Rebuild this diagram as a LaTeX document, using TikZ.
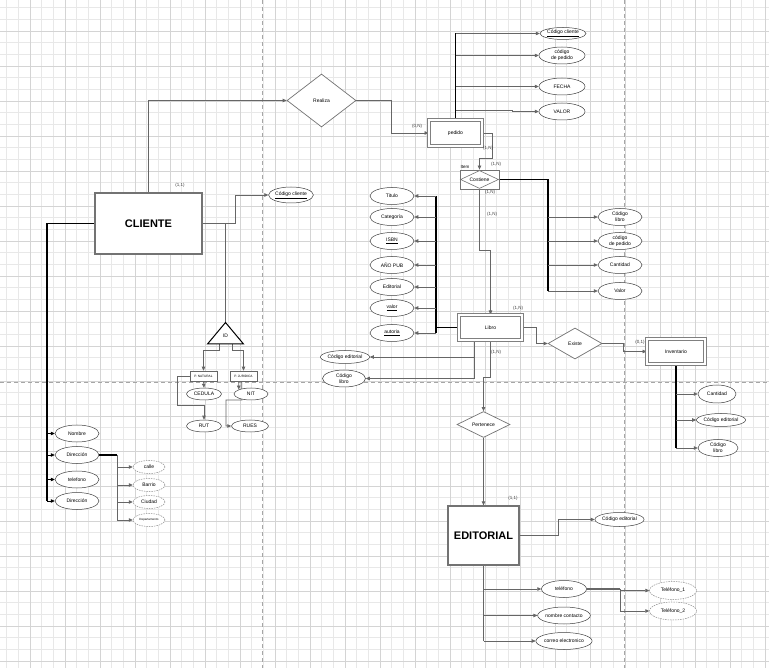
\documentclass[tikz,border=0pt]{standalone}
\usepackage{fontspec}
\setmainfont{Liberation Sans}
\usetikzlibrary{shapes.geometric,arrows.meta,calc}
\pgfdeclarelayer{gridlayer}
\pgfdeclarelayer{edgelayer}
\pgfsetlayers{gridlayer,edgelayer,main}
\begin{document}
\begin{tikzpicture}[x=1pt,y=-1pt,
 attr/.style={ellipse, draw=black!75, line width=0.5pt, fill=white, inner sep=0pt, font=\fontsize{5}{6}\selectfont, align=center},
 dattr/.style={attr, draw=black!45, dash pattern=on 1.5pt off 1pt},
 ent/.style={rectangle, draw=black!55, line width=1.2pt, fill=white, inner sep=0pt},
 went/.style={rectangle, draw=black!50, double=white, double distance=1.2pt, line width=1pt, fill=white, inner sep=0pt, font=\fontsize{5}{6}\selectfont},
 rel/.style={diamond, aspect=2, draw=black!55, line width=0.7pt, fill=white, inner sep=0pt, font=\fontsize{5}{6}\selectfont},
 pbox/.style={rectangle, draw=black!60, line width=0.6pt, fill=white, inner sep=0pt, font=\fontsize{3.2}{4}\selectfont},
 conn/.style={draw=black!60, line width=0.7pt, -{Triangle[length=4pt,width=3.5pt]}},
 link/.style={draw=black!60, line width=0.7pt},
 thk/.style={draw=black, line width=1.1pt},
 card/.style={font=\fontsize{4.5}{5}\selectfont, text=black!75, inner sep=0pt},
]
\useasboundingbox (0,0) rectangle (769,668);
\begin{pgfonlayer}{gridlayer}
\fill[white] (0,0) rectangle (769,668);
\foreach \i in {0,...,65} {\draw[black!9, line width=0.4pt] ({6.667+11.667*\i},0) -- ({6.667+11.667*\i},668);}
\foreach \i in {0,...,57} {\draw[black!9, line width=0.4pt] (0,{7.667+11.667*\i}) -- (769,{7.667+11.667*\i});}
\foreach \i in {0,...,21} {\draw[black!17, line width=0.5pt] ({30+35*\i},0) -- ({30+35*\i},668);}
\foreach \i in {0,...,18} {\draw[black!17, line width=0.5pt] (0,{31+35*\i}) -- (769,{31+35*\i});}
\draw[black!35, line width=0.8pt, dash pattern=on 4pt off 3pt] (262,0) -- (262,668);
\draw[black!35, line width=0.8pt, dash pattern=on 4pt off 3pt] (624,0) -- (624,668);
\draw[black!35, line width=0.8pt, dash pattern=on 4pt off 3pt] (0,382) -- (769,382);
\end{pgfonlayer}

% entities and relations
\node[ent, minimum width=107, minimum height=61, font=\bfseries\fontsize{11}{13}\selectfont] (cliente) at (148.5,223.5) {CLIENTE};
\node[rel, minimum width=69, minimum height=53] (realiza) at (321.5,100.5) {Realiza};
\node[went, minimum width=53, minimum height=26] (pedido) at (455.5,133) {pedido};
\node[rectangle, draw=black!55, line width=0.8pt, fill=white, minimum width=39, minimum height=19, inner sep=0pt] (costbox) at (479.5,179.5) {};
\node[rel, minimum width=38, minimum height=18, line width=0.6pt] (costiene) at (479.5,179.5) {Costiene};
\node[went, minimum width=63, minimum height=25] (libro) at (490.5,327.5) {Libro};
\node[rel, minimum width=54, minimum height=31] (existe) at (575,343.5) {Existe};
\node[went, minimum width=58, minimum height=25] (inv) at (676,351.5) {Inventario};
\node[rel, minimum width=53, minimum height=26] (pert) at (483.5,424.5) {Pertenece};
\node[ent, minimum width=71, minimum height=59, font=\bfseries\fontsize{11}{13}\selectfont] (edit) at (483.5,535.5) {EDITORIAL};

% pedido attributes
\node[attr, minimum width=46, minimum height=12] (pcc) at (563,33.5) {\underline{Código cliente}};
\node[attr, minimum width=46, minimum height=17] (pcp) at (562,55.5) {código\\de pedido};
\node[attr, minimum width=46, minimum height=17] (pfecha) at (562,86.5) {FECHA};
\node[attr, minimum width=46, minimum height=17] (pvalor) at (562,111.5) {VALOR};

% costiene attributes
\node[attr, minimum width=44, minimum height=17] (ccl) at (620,217) {Código\\libro};
\node[attr, minimum width=44, minimum height=17] (ccp) at (620,241) {código\\de pedido};
\node[attr, minimum width=44, minimum height=17] (ccant) at (620,265) {Cantidad};
\node[attr, minimum width=44, minimum height=17] (cval) at (620,291) {Valor};

% libro attributes
\node[attr, minimum width=44, minimum height=17] (ltit) at (392,196) {Titulo};
\node[attr, minimum width=44, minimum height=17] (lcat) at (392,217) {Categoría};
\node[attr, minimum width=44, minimum height=17] (lisbn) at (392,241) {\underline{ISBN}};
\node[attr, minimum width=44, minimum height=17] (lano) at (392,265) {AÑO PUB};
\node[attr, minimum width=44, minimum height=17] (ledit) at (392,287) {Editorial};
\node[attr, minimum width=44, minimum height=17] (lval) at (392,308) {\underline{valor}};
\node[attr, minimum width=44, minimum height=17] (laut) at (392,333) {\underline{autoria}};
\node[attr, minimum width=44, minimum height=13] (lce) at (345,357) {Código editorial};
\node[attr, minimum width=43, minimum height=17] (lcl) at (344,378.5) {Código\\libro};

% inventario attributes
\node[attr, minimum width=38, minimum height=18] (icant) at (717,394) {Cantidad};
\node[attr, minimum width=43, minimum height=13] (ice) at (721,420) {Código editorial};
\node[attr, minimum width=40, minimum height=17] (icl) at (718,448) {Código\\libro};

% editorial attributes
\node[attr, minimum width=45, minimum height=14] (ece) at (619.5,519.5) {Código editorial};
\node[attr, minimum width=45, minimum height=17] (etel) at (564,589) {teléfono};
\node[attr, minimum width=45, minimum height=17] (enc) at (564,615.5) {nombre contacto};
\node[attr, minimum width=45, minimum height=17] (ecor) at (564,641) {correo electronico};
\node[dattr, minimum width=47, minimum height=18] (et1) at (673,590.5) {Teléfono\_1};
\node[dattr, minimum width=47, minimum height=18] (et2) at (673,611) {Teléfono\_2};

% cliente attributes
\node[attr, minimum width=44, minimum height=16] (ccod) at (291,195) {\underline{Código cliente}};
\node[attr, minimum width=44, minimum height=17] (cnom) at (77,433.5) {Nombre};
\node[attr, minimum width=44, minimum height=17] (cdir1) at (77,455) {Dirección};
\node[attr, minimum width=44, minimum height=17] (ctel) at (77,479.5) {telefono};
\node[attr, minimum width=44, minimum height=17] (cdir2) at (77,501) {Dirección};
\node[dattr, minimum width=32, minimum height=13] (scalle) at (149,467) {calle};
\node[dattr, minimum width=32, minimum height=13] (sbar) at (149,485) {Barrio};
\node[dattr, minimum width=32, minimum height=13] (sciu) at (149,502) {Ciudad};
\node[dattr, minimum width=32, minimum height=13, font=\fontsize{3}{4}\selectfont] (sdep) at (149,520) {Departamento};

% ID specialization
\coordinate (idtop) at (225.5,322.5);
\coordinate (idl) at (207.5,344);
\coordinate (idr) at (243.5,344);
\draw[black, line width=1pt, fill=white] (idtop) -- (idr) -- (idl) -- cycle;
\node[font=\fontsize{5}{6}\selectfont, inner sep=0pt] (id) at (225.5,336) {ID};
\node[pbox, minimum width=27, minimum height=10] (pnat) at (203.5,376) {P. NATURAL};
\node[pbox, minimum width=27, minimum height=10] (pjur) at (243.5,376) {P. JURIDICA};
\node[attr, minimum width=35, minimum height=12] (ced) at (204,394) {CEDULA};
\node[attr, minimum width=35, minimum height=12] (rut) at (204,426) {RUT};
\node[attr, minimum width=34, minimum height=12] (nit) at (251,394) {NIT};
\node[attr, minimum width=37, minimum height=12] (rues) at (250,426) {RUES};

% cardinalities
\node[card] (k1) at (180,185) {(1,1)};
\node[card] (k2) at (417,126) {(0,N)};
\node[card] (k3) at (488,148) {(1,N)};
\node[card] (k4) at (496,164) {(1,N)};
\node[card] (k5) at (490,192) {(1,N)};
\node[card] (k6) at (492,214) {(1,N)};
\node[card] (k7) at (518,308) {(1,N)};
\node[card] (k8) at (496,352) {(1,N)};
\node[card] (k9) at (640,342) {(0,1)};
\node[card] (k10) at (513,498) {(1,1)};
\node[card, text=black] (item) at (465,167) {Item};

% trunk coordinates
\coordinate (ctr) at (548,200);
\coordinate (ltr) at (436,200);
\coordinate (cltr) at (47,400);
\coordinate (dtr) at (117,480);
\coordinate (vtr) at (512,110);
\coordinate (ttr) at (620,589);

\begin{pgfonlayer}{edgelayer}
\draw[conn] (cliente.north) |- (realiza.west);
\draw[conn] (realiza.east) -- (391,100.5) |- (pedido.west);
\draw[thk] (pedido.north) -- (pedido.north |- pcc.west);
\foreach \n in {pcc,pcp,pfecha} {\draw[conn] (pedido.north |- \n.west) -- (\n.west);}
\draw[conn] (pedido.north |- vtr) -- (vtr) |- (pvalor.west);
\draw[conn] (pedido.east) -- (492,133) -- (492,158) -| (costbox.north);
\draw[thk] (costbox.east) -| (cval.west -| ctr);
\foreach \n in {ccl,ccp,ccant,cval} {\draw[conn] (\n.west -| ctr) -- (\n.west);}
\draw[conn] (costbox.south) -- (479.5,250) -| (libro.north);
\draw[thk] (libro.west) -- (libro.west -| ltr);
\draw[thk] (ltit.east -| ltr) -- (laut.east -| ltr);
\foreach \n in {ltit,lcat,lisbn,lano,ledit,lval,laut} {\draw[conn] (\n.east -| ltr) -- (\n.east);}
\coordinate (lb1) at (474,341);
\draw[conn] (lb1) |- (lce.east);
\draw[conn] (lb1) |- (lcl.east);
\draw[conn] (libro.south) -- (490.5,377) -| (pert.north);
\draw[conn] (pert.south) -- (edit.north);
\draw[conn] (libro.east) -- (536,327.5) |- (existe.west);
\draw[conn] (existe.east) -- (623,343.5) |- (inv.west);
\draw[thk] (inv.south) -- (icl.west -| inv.south);
\foreach \n in {icant,ice,icl} {\draw[conn] (\n.west -| inv.south) -- (\n.west);}
\draw[conn] (edit.east) -- (558,535.5) |- (ece.west);
\draw[link, line width=1.1pt] (edit.south) -- (ecor.west -| edit.south);
\foreach \n in {etel,enc,ecor} {\draw[conn] (\n.west -| edit.south) -- (\n.west);}
\draw[link, line width=1.1pt] (etel.east) -- (ttr);
\draw[conn] (ttr) |- (et1.west);
\draw[conn] (ttr) |- (et2.west);
\draw[conn] (cliente.east) -- (235,223.5) |- (ccod.west);
\draw[link] (cliente.east) -| (idtop);
\draw[conn] (219,344) -- (219,350) -| (pnat.north);
\draw[conn] (232,344) -- (232,350) -| (pjur.north);
\draw[conn] (pnat.south) -- (ced.north);
\draw[conn] (pnat.west) -- (177,376) -- (177,405) -| (rut.north);
\draw[conn] ([xshift=9pt]pjur.south west) -- (nit.north west);
\draw[conn] ([xshift=12pt]pjur.south west) -- (242,400) -- (226,400) |- (rues.west);
\draw[thk] (cliente.west) -| (cdir2.west -| cltr);
\foreach \n in {cnom,cdir1,ctel,cdir2} {\draw[conn, draw=black] (\n.west -| cltr) -- (\n.west);}
\draw[thk] (cdir1.east) -- (cdir1.east -| dtr);
\draw[link] (cdir1.east -| dtr) -- (sdep.west -| dtr);
\foreach \n in {scalle,sbar,sciu,sdep} {\draw[conn] (\n.west -| dtr) -- (\n.west);}
\end{pgfonlayer}
\end{tikzpicture}
\end{document}
